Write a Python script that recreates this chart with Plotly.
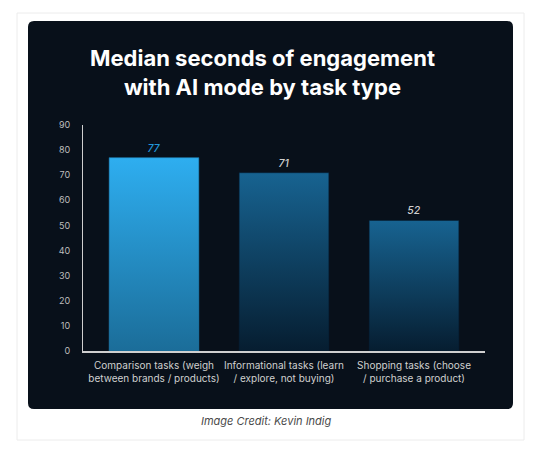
import plotly.graph_objects as go

# data
categories = [
    "Comparison tasks (weigh<br>between brands / products)",
    "Informational tasks (learn<br>/ explore, not buying)",
    "Shopping tasks (choose<br>/ purchase a product)",
]
median_seconds = [77, 71, 52]
y_ticks = [0, 10, 20, 30, 40, 50, 60, 70, 80, 90]

TITLE = "Median seconds of engagement<br>with AI mode by task type"
CREDIT = "Image Credit: Kevin Indig"

# colours: first bar highlighted
bar_top = ["#2eaef0", "#176391", "#176391"]
bar_bottom = ["#1b6d99", "#061d30", "#061d30"]
label_colors = ["#2196d8", "#cfcfcf", "#cfcfcf"]

W, H = 541, 453
L, R, T, B = 83, 56, 125, 102
PW, PH = W - L - R, H - T - B
BAR_W = 0.69
FONT = "Inter"


def px_x(px):
    return (px - L) / PW


def px_y(py):
    return (H - B - py) / PH


def rounded_rect(x0, y0, x1, y1, r):
    # pixel coords -> paper coords path with rounded corners
    rx, ry = r / PW, r / PH
    a, b, c, d = px_x(x0), px_y(y1), px_x(x1), px_y(y0)
    return (f"M {a+rx},{b} L {c-rx},{b} Q {c},{b} {c},{b+ry} "
            f"L {c},{d-ry} Q {c},{d} {c-rx},{d} L {a+rx},{d} "
            f"Q {a},{d} {a},{d-ry} L {a},{b+ry} Q {a},{b} {a+rx},{b} Z")


xs = list(range(len(categories)))

fig = go.Figure()

# real bar trace carries the values and the labels
fig.add_trace(go.Bar(
    x=xs,
    y=median_seconds,
    width=BAR_W,
    marker=dict(color=bar_bottom, line=dict(width=0)),
    text=[str(v) for v in median_seconds],
    textposition="outside",
    textfont=dict(family=FONT, size=10.5, color=label_colors,
                  style="italic", weight=500),
    cliponaxis=False,
    hoverinfo="skip",
    showlegend=False,
))

# gradient fill drawn over each bar
for i, v in enumerate(median_seconds):
    x0, x1 = i - BAR_W / 2, i + BAR_W / 2
    fig.add_trace(go.Scatter(
        x=[x0, x1, x1, x0, x0],
        y=[0, 0, v, v, 0],
        mode="lines",
        line=dict(width=0.6, color=bar_bottom[i]),
        fill="toself",
        fillgradient=dict(type="vertical",
                          colorscale=[[0, bar_bottom[i]], [1, bar_top[i]]]),
        hoverinfo="skip",
        showlegend=False,
    ))

fig.update_layout(
    width=W,
    height=H,
    margin=dict(l=L, r=R, t=T, b=B, pad=0),
    paper_bgcolor="white",
    plot_bgcolor="rgba(0,0,0,0)",
    font=dict(family=FONT, color="#cfcfcf"),
    showlegend=False,
    xaxis=dict(
        range=[-0.546, 2.546],
        tickvals=xs,
        ticktext=categories,
        tickfont=dict(size=10, color="#d0d0d0"),
        showgrid=False,
        zeroline=False,
        showline=True,
        linecolor="#cfcfcf",
        linewidth=2,
        ticks="",
        ticklabelstandoff=4,
        fixedrange=True,
    ),
    yaxis=dict(
        range=[0, 90],
        tickvals=y_ticks,
        tickfont=dict(size=9, color="#bdbdbd"),
        showgrid=False,
        zeroline=False,
        showline=True,
        linecolor="#cfcfcf",
        linewidth=1,
        ticks="",
        ticklabelstandoff=10,
        fixedrange=True,
    ),
    shapes=[
        # outer card
        dict(type="rect", xref="paper", yref="paper", layer="below",
             x0=px_x(17), x1=px_x(524), y0=px_y(440), y1=px_y(13),
             line=dict(color="#ececec", width=1), fillcolor="white"),
        # dark panel
        dict(type="path", xref="paper", yref="paper", layer="below",
             path=rounded_rect(28, 21, 513, 409, 6),
             line=dict(width=0), fillcolor="#08101a"),
    ],
    annotations=[
        dict(text=TITLE, xref="paper", yref="paper",
             x=px_x(262), y=px_y(43), xanchor="center", yanchor="top",
             showarrow=False, align="center",
             font=dict(family=FONT, size=22, color="white", weight="bold")),
        dict(text=CREDIT, xref="paper", yref="paper",
             x=px_x(266), y=px_y(421), xanchor="center", yanchor="middle",
             showarrow=False,
             font=dict(family=FONT, size=11, color="#4a4a4a", style="italic")),
    ],
)

fig.write_html("out.html", config={"displayModeBar": False},
               post_script="document.body.style.margin='0';")
